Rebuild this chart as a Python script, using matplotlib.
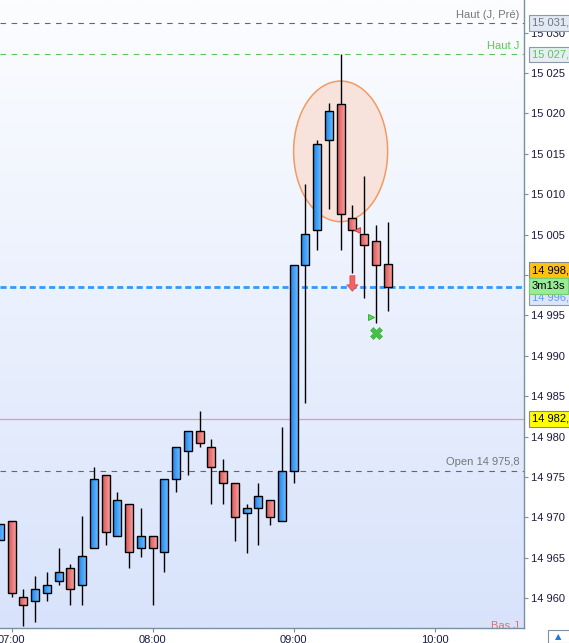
import numpy as np
import matplotlib
matplotlib.use('Agg')
from matplotlib import pyplot as plt
from matplotlib.patches import Rectangle, Ellipse
from matplotlib.colors import LinearSegmentedColormap

plt.rcParams['font.family'] = ['Liberation Sans', 'DejaVu Sans']

# 5 minute candles
times  = ['06:55', '07:00', '07:05', '07:10', '07:15', '07:20', '07:25', '07:30', '07:35',
          '07:40', '07:45', '07:50', '07:55', '08:00', '08:05', '08:10', '08:15', '08:20',
          '08:25', '08:30', '08:35', '08:40', '08:45', '08:50', '08:55', '09:00', '09:05',
          '09:10', '09:15', '09:20', '09:25', '09:30', '09:35', '09:40']
opens  = [14967.2, 14969.6, 14960.1, 14959.6, 14960.6, 14962.1, 14963.7, 14961.6, 14966.2,
          14975.2, 14967.7, 14971.6, 14966.2, 14967.7, 14965.7, 14974.7, 14978.2, 14980.7,
          14978.7, 14975.7, 14974.2, 14970.6, 14971.1, 14972.1, 14969.6, 14975.7, 15001.2,
          15005.6, 15016.7, 15021.2, 15007.1, 15005.1, 15004.2, 15001.4]
highs  = [14969.2, 14969.6, 14961.1, 14962.8, 14963.2, 14966.2, 14964.2, 14970.2, 14976.2,
          14975.2, 14973.1, 14971.6, 14971.2, 14967.7, 14974.7, 14978.7, 14980.7, 14983.2,
          14979.7, 14977.2, 14974.2, 14971.6, 14974.3, 14972.1, 14981.2, 15001.2, 15011.3,
          15016.7, 15021.3, 15027.3, 15008.7, 15012.2, 15006.2, 15006.6]
lows   = [14967.2, 14960.1, 14956.5, 14957.1, 14959.6, 14961.6, 14959.1, 14959.1, 14966.2,
          14966.6, 14967.7, 14963.7, 14965.1, 14959.1, 14963.2, 14973.1, 14975.2, 14978.7,
          14971.6, 14971.6, 14967.1, 14965.6, 14966.6, 14969.1, 14969.6, 14974.3, 14984.2,
          15003.1, 15008.2, 15003.1, 15000.2, 14997.2, 14994.1, 14995.5]
closes = [14969.2, 14960.6, 14959.1, 14961.1, 14961.6, 14963.2, 14961.1, 14965.2, 14974.7,
          14968.2, 14972.1, 14965.7, 14967.7, 14966.2, 14974.7, 14978.7, 14980.7, 14979.2,
          14976.2, 14974.2, 14970.1, 14971.1, 14972.6, 14970.1, 14975.7, 15001.2, 15005.1,
          15016.2, 15020.3, 15007.6, 15005.6, 15003.7, 15001.2, 14998.5]

tick_times = ['07:00', '08:00', '09:00', '10:00']

haut_pre   = 15031.2
haut_j     = 15027.3
open_j     = 14975.8
bas_j      = 14955.9
ref_level  = 14982.2
last_price = 14998.5
bid_price  = 14996.5
timer_txt  = '3m13s'

# signals
arrow_time, arrow_top, arrow_tip = '09:25', 14999.9, 14998.0
sell_tri_time, sell_tri_val = '09:27', 15005.6
buy_tri_time, buy_tri_val   = '09:33', 14994.8
cross_time, cross_val       = '09:35', 14992.8
ell_time, ell_val, ell_w, ell_h = '09:20', 15015.3, 8.0, 17.4


def bar_x(t):
    h, m = t.split(':')
    return (int(h) * 60 + int(m) - (6 * 60 + 55)) / 5.0


def fr(v):
    return f"{v:,.1f}".replace(',', ' ').replace('.', ',')


fig = plt.figure(figsize=(5.69, 6.43), dpi=100)
ax = fig.add_axes([0, 15 / 643, 524 / 569, 628 / 643])

xlim = (0.02, 44.6)
ylim = (14956.31, 15034.03)

# background gradient
grad = np.linspace(0, 1, 256).reshape(-1, 1)
bg_cmap = LinearSegmentedColormap.from_list('bg', ['#d8e3fb', '#fcfdff'])
ax.imshow(grad, cmap=bg_cmap, aspect='auto', origin='lower',
          extent=(xlim[0], xlim[1], ylim[0], ylim[1]), zorder=0)

# level lines
ax.axhline(haut_pre, color='#666666', lw=0.8, ls=(0, (5, 5)), zorder=1)
ax.axhline(haut_j, color='#5cc45c', lw=0.8, ls=(0, (5, 5)), zorder=1)
ax.axhline(open_j, color='#666666', lw=0.8, ls=(0, (5, 5)), zorder=1)
ax.axhline(ref_level, color='#e89a9a', lw=0.9, zorder=1)
ax.axhline(last_price, color='#3399ff', lw=2, ls=(0, (2.2, 1.3)), zorder=1)

# ellipse
ell = Ellipse((bar_x(ell_time), ell_val), ell_w, ell_h, facecolor='#f7e2dc',
              edgecolor='#f39a62', lw=1.1, zorder=2)
ax.add_patch(ell)

blue_cmap = LinearSegmentedColormap.from_list('bl', ['#1c84ea', '#6ab9ff'])
red_cmap = LinearSegmentedColormap.from_list('rd', ['#dc5252', '#f59d9d'])
hgrad = np.linspace(0, 1, 32).reshape(1, -1)
bw = 0.68

for t, o, h, l, c in zip(times, opens, highs, lows, closes):
    x = bar_x(t)
    ax.vlines(x, l, h, color='black', lw=1.0, zorder=3)
    lo, hi = min(o, c), max(o, c)
    rect = Rectangle((x - bw / 2, lo), bw, hi - lo, facecolor='none',
                     edgecolor='black', lw=1.0, zorder=5)
    ax.add_patch(rect)
    im = ax.imshow(hgrad, cmap=blue_cmap if c >= o else red_cmap, aspect='auto',
                   extent=(x - bw / 2, x + bw / 2, lo, hi), zorder=4)
    im.set_clip_path(rect)

# signals
ax.annotate('', xy=(bar_x(arrow_time), arrow_tip), xytext=(bar_x(arrow_time), arrow_top),
            arrowprops=dict(arrowstyle='simple,head_width=0.8,head_length=0.45,tail_width=0.35',
                            mutation_scale=10, shrinkA=0, shrinkB=0,
                            fc='#f26464', ec='#e04444', lw=0.6), zorder=7)
ax.plot(bar_x(sell_tri_time), sell_tri_val, marker='<', ms=5, color='#f07070',
        mec='#d03030', mew=0.6, zorder=7)
ax.plot(bar_x(buy_tri_time), buy_tri_val, marker='>', ms=5, color='#55dd55',
        mec='#22aa22', mew=0.6, zorder=7)
ax.plot(bar_x(cross_time), cross_val, marker='X', ms=9, color='#44c044',
        mec='#33aa33', mew=0.4, zorder=7)

# level captions
tr = ax.get_yaxis_transform()
ax.annotate('Haut (J, Pré)', xy=(1, haut_pre), xycoords=tr, xytext=(-5, 3),
            textcoords='offset pixels', ha='right', va='bottom', fontsize=8, color='#777777')
ax.annotate('Haut J', xy=(1, haut_j), xycoords=tr, xytext=(-5, 3),
            textcoords='offset pixels', ha='right', va='bottom', fontsize=8, color='#55cc55')
ax.annotate('Open ' + fr(open_j), xy=(1, open_j), xycoords=tr,
            xytext=(-4, 4), textcoords='offset pixels', ha='right', va='bottom',
            fontsize=8, color='#777777')
ax.annotate('Bas J', xy=(1, bas_j), xycoords=tr, xytext=(-5, 0),
            textcoords='offset pixels', ha='right', va='bottom', fontsize=8,
            color='#e07070', annotation_clip=False, clip_on=True)

# price boxes on the right axis
def price_box(val, txt, fc, ec, tc, dy=0, z=10):
    ax.annotate(txt, xy=(1, val), xycoords=tr, xytext=(8, dy), textcoords='offset pixels',
                ha='left', va='center', fontsize=8, color=tc, zorder=z,
                annotation_clip=False,
                bbox=dict(boxstyle='square,pad=0.25', fc=fc, ec=ec, lw=0.8))

price_box(haut_pre, fr(haut_pre), '#e3e9f3', '#8a98a8', '#6a7888')
price_box(haut_j, fr(haut_j), '#e6edf3', '#8a98a8', '#55cc55')
price_box(ref_level, fr(ref_level), '#ffff00', '#888888', 'black')
price_box(bid_price, fr(bid_price), '#dde5f6', '#8a98a8', '#5c9cff', dy=6, z=10)
price_box(last_price, fr(last_price), '#ffc20e', '#888888', 'black', dy=17, z=11)
price_box(last_price, timer_txt, '#98ec98', '#77cc77', 'black', dy=1, z=12)

# axes styling
ax.set_xlim(xlim)
ax.set_ylim(ylim)
ax.yaxis.tick_right()
yt = np.arange(14960, 15031, 5)
ax.set_yticks(yt)
ax.set_yticklabels([f"{v:,}".replace(',', ' ') for v in yt])
ax.set_xticks([bar_x(t) for t in tick_times])
ax.set_xticklabels(tick_times)
ax.tick_params(axis='both', labelsize=8, colors='#7890a0', labelcolor='#1a1a40',
               length=3, width=0.8, pad=2)
for s in ['left', 'top']:
    ax.spines[s].set_visible(False)
for s in ['right', 'bottom']:
    ax.spines[s].set_color('#7890a0')
    ax.spines[s].set_linewidth(1.0)

# little button in the corner
fig.patches.append(Rectangle((548 / 569, 0), 22 / 569, 13 / 643, transform=fig.transFigure,
                             facecolor='white', edgecolor='#8090a0', lw=0.8))
fig.text(558 / 569, 6 / 643, '\u25b2', color='#2277dd', fontsize=6, ha='center', va='center',
         family='DejaVu Sans')

plt.savefig('out.png', dpi=100)
